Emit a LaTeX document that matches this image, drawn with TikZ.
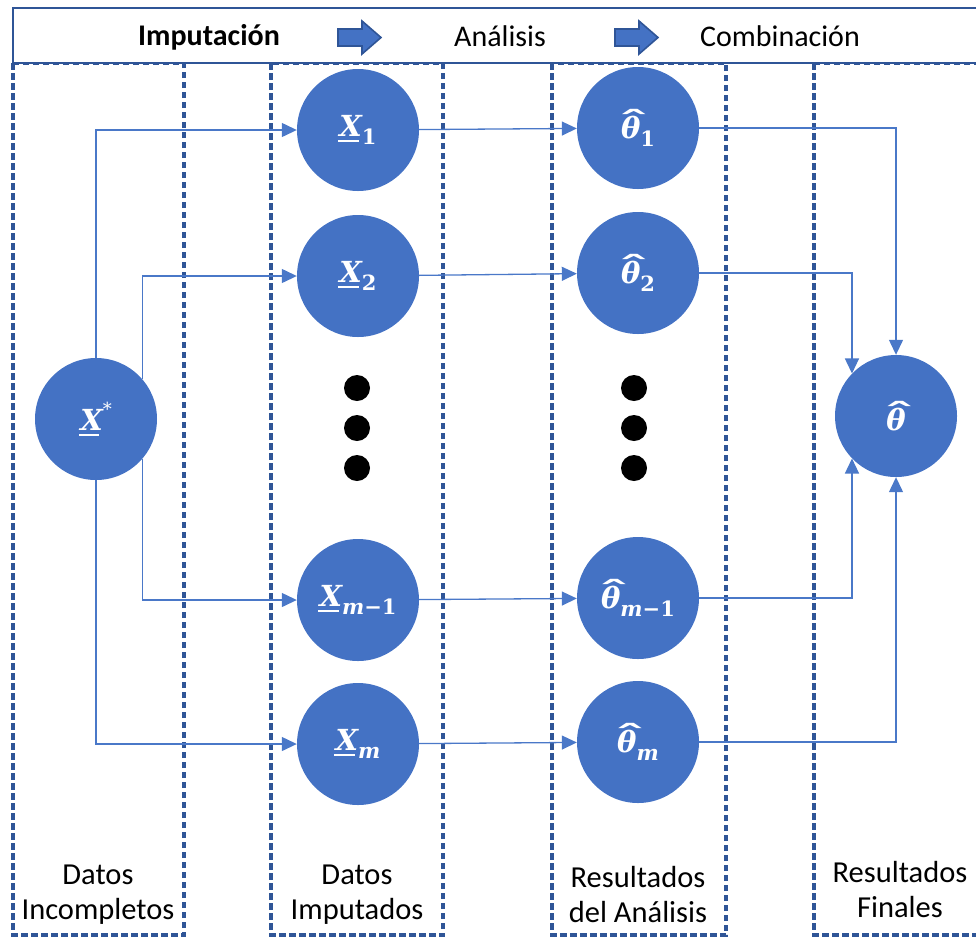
\RequirePackage{fix-cm}
\documentclass[tikz,border=0pt]{standalone}
\usepackage{fontspec}
\setmainfont{Carlito}
\newfontfamily\labfont{DejaVu Serif}
\usetikzlibrary{arrows.meta}

% symbols inside the bubbles
\newcommand{\sv}[1]{{\labfont\bfseries\itshape #1}}
\newcommand{\Xu}{\leavevmode\rlap{\hspace{-0.04em}\rule[-0.2em]{0.7em}{0.075em}}\sv{X}}
\newcommand{\sub}[1]{\raisebox{-0.28em}{\fontsize{21}{21}\selectfont\labfont\bfseries #1}}
\newsavebox{\thbox}
\newcommand{\thh}{\sbox{\thbox}{\sv{θ}}%
  \leavevmode\rlap{\makebox[\wd\thbox]{\hspace{0.22em}\raisebox{0.2em}{\scalebox{2.2}[1]{\labfont\bfseries ˆ}}}}%
  \usebox{\thbox}}
\newcommand{\mmo}{{\itshape m}−1}

\definecolor{nodeblue}{HTML}{4472C4}
\definecolor{edgeblue}{HTML}{2F5597}
\definecolor{linkblue}{HTML}{4A78C8}

\tikzset{
  stage/.style={draw=edgeblue, line width=3.2pt, dash pattern=on 6.5pt off 3.5pt},
  bar/.style={draw=edgeblue, line width=2.8pt},
  bubble/.style={circle, fill=nodeblue, minimum size=122pt, inner sep=0pt,
    text=white, font=\fontsize{29}{31}\selectfont},
  blob/.style={circle, fill=black, minimum size=26pt, inner sep=0pt},
  conn/.style={draw=linkblue, line width=1.3pt,
    -{Triangle[length=15pt,width=14pt]}},
  head/.style={font=\fontsize{30}{34}\selectfont},
  caption/.style={font=\fontsize{30.5}{35}\selectfont, align=center},
  blockarrow/.style={fill=nodeblue, draw=edgeblue, line width=1.6pt, line join=miter}
}

\begin{document}
\begin{tikzpicture}[x=1pt, y=-1pt]
\useasboundingbox (0,0) rectangle (976,938);

% stage columns
\draw[stage] (13,63) rectangle (184,935);
\draw[stage] (271,63) rectangle (443,935);
\draw[stage] (552,63) rectangle (726,935);
\draw[stage] (814,63) rectangle (1000,935);

% header bar
\draw[bar, fill=white] (13,8) rectangle (1000,63);
\node[head, font=\fontsize{30}{34}\selectfont\bfseries] (hImp) at (209,37) {Imputación};
\node[head] (hAna) at (500,36) {Análisis};
\node[head] (hCom) at (780,36) {Combinación};
\draw[blockarrow] (338,29) -- (362,29) -- (362,21) -- (381,37.5) -- (362,54) -- (362,46) -- (338,46) -- cycle;
\draw[blockarrow] (615,29) -- (639,29) -- (639,21) -- (658,37.5) -- (639,54) -- (639,46) -- (615,46) -- cycle;

% data sets
\node[bubble] (xs) at (96,419) {\Xu\raisebox{0.5em}{\fontsize{18}{18}\selectfont\labfont *}};
\node[bubble] (x1) at (358,130) {\Xu\sub{1}};
\node[bubble] (x2) at (358,276) {\Xu\sub{2}};
\node[bubble] (xm1) at (358,600) {\Xu\sub{\mmo}};
\node[bubble] (xm) at (358,744) {\Xu\sub{\itshape m}};

% estimates
\node[bubble] (t1) at (638,128) {\thh\sub{1}};
\node[bubble] (t2) at (638,273) {\thh\sub{2}};
\node[bubble] (tm1) at (638,598) {\thh\sub{\mmo}};
\node[bubble] (tm) at (638,742) {\thh\sub{\itshape m}};

% pooled result
\node[bubble] (fin) at (896,416) {\thh};

% ellipsis dots
\node[blob] (d1) at (357,388) {};
\node[blob] (d2) at (357,428) {};
\node[blob] (d3) at (357,468) {};
\node[blob] (e1) at (634,388) {};
\node[blob] (e2) at (634,428) {};
\node[blob] (e3) at (634,468) {};

% imputation links
\draw[conn] (xs.north) |- (x1);
\draw[conn] (xs.41) |- (x2);
\draw[conn] (xs.-41) |- (xm1);
\draw[conn] (xs.south) |- (xm);

% analysis links
\draw[conn] (x1) -- (t1);
\draw[conn] (x2) -- (t2);
\draw[conn] (xm1) -- (tm1);
\draw[conn] (xm) -- (tm);

% combination links
\draw[conn] (t1) -| (fin.north);
\draw[conn] (t2) -| (fin.136);
\draw[conn] (tm1) -| (fin.-136);
\draw[conn] (tm) -| (fin.south);

% stage captions
\node[caption] (c1) at (98,895) {Datos\\Incompletos};
\node[caption] (c2) at (357,895) {Datos\\Imputados};
\node[caption] (c3) at (638,895) {Resultados\\del Análisis};
\node[caption] (c4) at (900,890) {Resultados\\Finales};
\end{tikzpicture}
\end{document}
